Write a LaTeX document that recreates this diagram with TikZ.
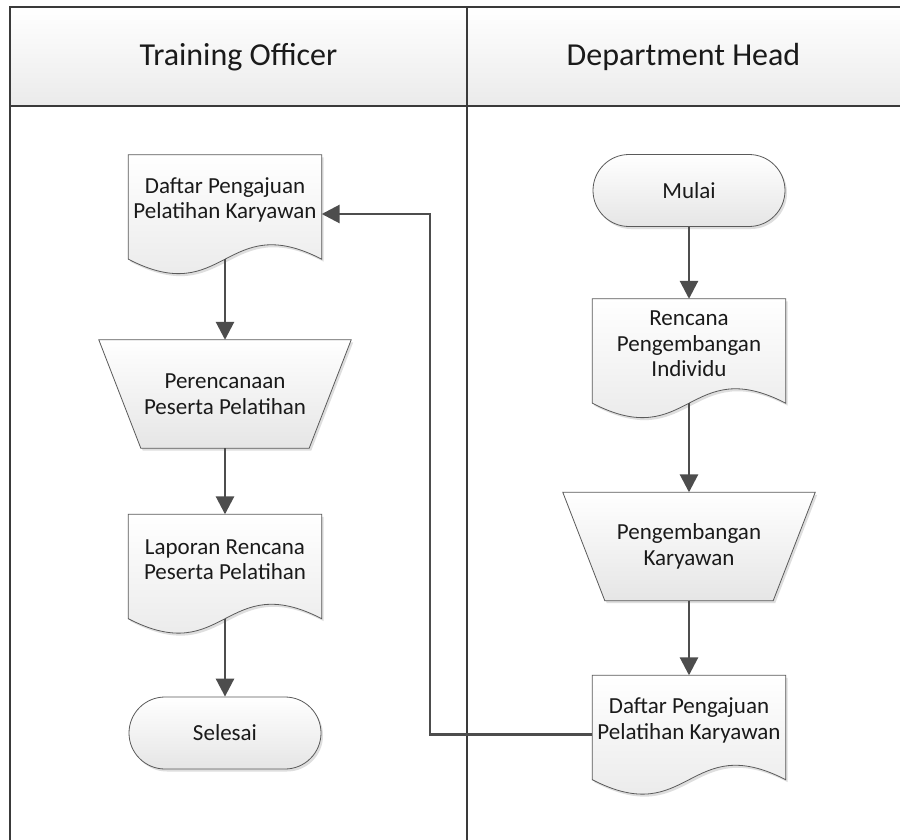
\documentclass[tikz,border=0pt]{standalone}
\usepackage{fontspec}
\setmainfont{Carlito}
\usetikzlibrary{arrows.meta,calc,backgrounds,shadows}

\definecolor{framegray}{HTML}{3A3A3A}
\definecolor{conngray}{HTML}{4D4D4D}
\definecolor{edgegray}{HTML}{5A5A5A}
\definecolor{txtgray}{HTML}{1A1A1A}

\newcommand\mydocpath[2]{%
  \path[#2] (#1.north west) -- (#1.north east) -- ($(#1.south east)+(0,-14)$)
    .. controls ($(#1.south)+(0,-64)$) and ($(#1.south)+(0,36)$) .. ($(#1.south west)+(0,-14)$) -- cycle;}
\newcommand\mytrappath[2]{%
  \path[#2] (#1.north west) -- (#1.north east) -- ($(#1.south east)+(-42,0)$)
    -- ($(#1.south west)+(42,0)$) -- cycle;}

\begin{document}
\begin{tikzpicture}[x=1pt,y=-1pt,
  txt/.style={font=\fontsize{23}{25.5}\selectfont, align=center, text=txtgray},
  hdr/.style={font=\fontsize{32}{38}\selectfont, text=txtgray},
  docbox/.style={draw=none, inner sep=0pt, minimum width=193pt, minimum height=118pt},
  trapbox/.style={txt, draw=none, inner sep=0pt, minimum width=252pt, minimum height=108pt},
  shapefill/.style={draw=edgegray, line width=0.8pt, top color=white, bottom color=black!10},
  shadowfill/.style={fill=black!13, draw=none, transform canvas={shift={(2pt,-2.5pt)}}},
  term/.style={txt, shapefill, rounded corners=36pt, minimum width=192pt, minimum height=72pt,
    drop shadow={shadow xshift=2pt, shadow yshift=-2.5pt, fill=black!13, opacity=1}},
  conn/.style={draw=conngray, line width=2.8pt, -{Triangle[length=18pt,width=18pt]}},
  framestyle/.style={draw=framegray, line width=2pt},
]
\useasboundingbox (0,0) rectangle (900,840);

% header titles
\node[hdr] (h1) at (238.5,57) {Training Officer};
\node[hdr] (h2) at (683.5,57) {Department Head};

% left lane
\node[docbox] (d1) at (225,214) {};
\node[txt] (d1t) at ($(d1.center)+(0,-14)$) {Daftar Pengajuan\\Pelatihan Karyawan};
\node[trapbox] (p1) at (225,394) {Perencanaan\\Peserta Pelatihan};
\node[docbox] (d2) at (225,573.5) {};
\node[txt] (d2t) at ($(d2.center)+(0,-14)$) {Laporan Rencana\\Peserta Pelatihan};
\node[term] (t2) at (225,733) {Selesai};

% right lane
\node[term] (t1) at (689,190.5) {Mulai};
\node[docbox] (d3) at (689,358) {};
\node[txt] (d3t) at ($(d3.center)+(0,-14)$) {Rencana\\Pengembangan\\Individu};
\node[trapbox] (p2) at (689,546.5) {Pengembangan\\Karyawan};
\node[docbox] (d4) at (689,734.5) {};
\node[txt] (d4t) at ($(d4.center)+(0,-14)$) {Daftar Pengajuan\\Pelatihan Karyawan};

\begin{scope}[on background layer]
  \fill[white] (0,0) rectangle (900,840);
  \path[top color=white, bottom color=black!8] (10,7) rectangle (900,106);
  \foreach \d in {d1,d2,d3,d4}{
    \mydocpath{\d}{shadowfill}
    \mydocpath{\d}{shapefill}
  }
  \foreach \p in {p1,p2}{
    \mytrappath{\p}{shadowfill}
    \mytrappath{\p}{shapefill}
  }
\end{scope}

% swimlane frame
\draw[framestyle] (10,840) -- (10,7) -- (900,7);
\draw[framestyle] (10,106) -- (900,106);
\draw[framestyle] (467,7) -- (467,840);

% connectors
\draw[conn] ($(d1.south)+(0,-14)$) -- (p1.north);
\draw[conn] (p1.south) -- (d2.north);
\draw[conn] ($(d2.south)+(0,-14)$) -- (t2.north);
\draw[conn] (t1.south) -- (d3.north);
\draw[conn] ($(d3.south)+(0,-14)$) -- (p2.north);
\draw[conn] (p2.south) -- (d4.north);
\coordinate (bend) at (430,0);
\draw[conn] (d4.west) -- (d4.west -| bend) -- (d1.east -| bend) -- (d1.east);
\end{tikzpicture}
\end{document}
